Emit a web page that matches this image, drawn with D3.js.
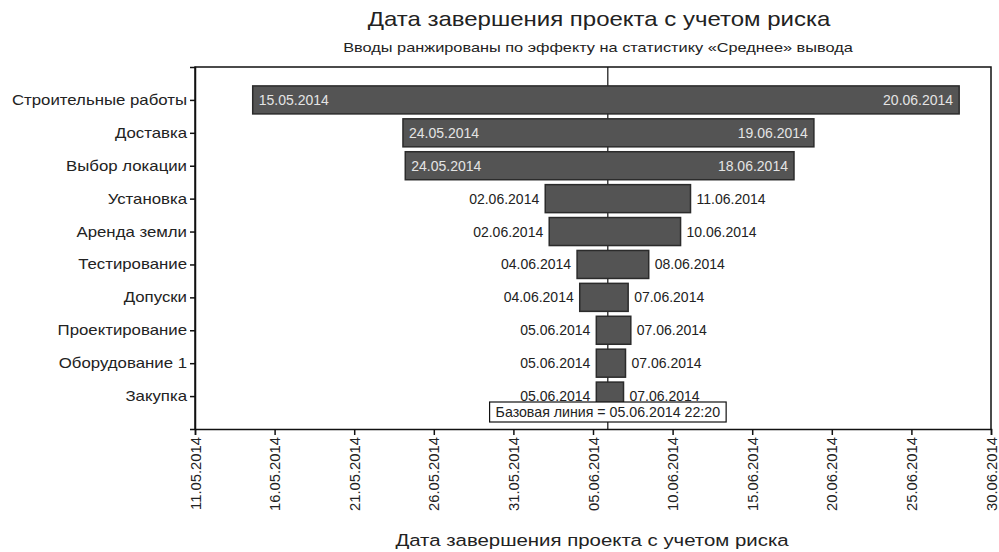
<!DOCTYPE html>
<html><head><meta charset="utf-8">
<script src="https://cdn.jsdelivr.net/npm/d3@7"></script>
<style>
body{margin:0;background:#fff;}
svg text{font-family:"Liberation Sans",Arial,sans-serif;}
</style></head>
<body><svg id="c" width="999" height="552"></svg>
<script>
const categories = ["Строительные работы","Доставка","Выбор локации","Установка","Аренда земли","Тестирование","Допуски","Проектирование","Оборудование 1","Закупка"];
// bar extents (date-time)
const lowValues  = ["2014-05-14T15:00","2014-05-24T01:30","2014-05-24T05:00","2014-06-02T00:00","2014-06-02T06:00","2014-06-04T00:00","2014-06-04T04:00","2014-06-05T05:00","2014-06-05T05:00","2014-06-05T05:00"];
const highValues = ["2014-06-28T00:00","2014-06-18T21:00","2014-06-17T15:00","2014-06-11T03:00","2014-06-10T12:00","2014-06-08T12:00","2014-06-07T05:00","2014-06-07T09:00","2014-06-07T01:00","2014-06-06T22:00"];
const lowLabels  = ["15.05.2014","24.05.2014","24.05.2014","02.06.2014","02.06.2014","04.06.2014","04.06.2014","05.06.2014","05.06.2014","05.06.2014"];
const highLabels = ["20.06.2014","19.06.2014","18.06.2014","11.06.2014","10.06.2014","08.06.2014","07.06.2014","07.06.2014","07.06.2014","07.06.2014"];
const labelsInside = [true,true,true,false,false,false,false,false,false,false];
const tickLabels = ["11.05.2014","16.05.2014","21.05.2014","26.05.2014","31.05.2014","05.06.2014","10.06.2014","15.06.2014","20.06.2014","25.06.2014","30.06.2014"];
const baselineValue = "2014-06-05T22:20";
const baselineText = "Базовая линия = 05.06.2014 22:20";
const titleText = "Дата завершения проекта с учетом риска";
const subtitleText = "Вводы ранжированы по эффекту на статистику «Среднее» вывода";
const xTitleText = "Дата завершения проекта с учетом риска";

const parse = d3.timeParse("%Y-%m-%dT%H:%M");
const parseTick = d3.timeParse("%d.%m.%Y");
const tickDates = tickLabels.map(parseTick);
const fmt = d3.timeFormat("%d.%m.%Y");

const svg = d3.select("#c");
const L=195, R=991, T=67, B=429;
const SX = 1.2; // horizontal stretch seen in the reference text

const x = d3.scaleTime().domain([tickDates[0], tickDates[tickDates.length-1]]).range([L, R]);
const y = d3.scalePoint().domain(categories).range([T, B]).padding(1);
const barH = 28;

function stretchedText(cx, cy, size, txt){
  svg.append("g").attr("transform",`translate(${cx},${cy}) scale(${SX},1)`)
    .append("text").attr("x",0).attr("y",0).attr("text-anchor","middle")
    .attr("font-size",size).attr("fill","#222").text(txt);
}
stretchedText(599, 26, 20, titleText);
stretchedText(598, 52, 13.6, subtitleText);

// frame
svg.append("path").attr("d",`M${L},${B}V${T}H${R}V${B}`).attr("fill","none").attr("stroke","#111").attr("stroke-width",1.5);

// baseline
const bx = x(parse(baselineValue));
svg.append("line").attr("x1",bx).attr("x2",bx).attr("y1",T).attr("y2",B).attr("stroke","#111").attr("stroke-width",1.2);

// bars
const data = categories.map((c,i)=>({c, lo:parse(lowValues[i]), hi:parse(highValues[i]), ll:lowLabels[i], hl:highLabels[i], inside:labelsInside[i]}));
const g = svg.append("g");
g.selectAll("rect").data(data).join("rect")
  .attr("x",d=>x(d.lo)).attr("width",d=>x(d.hi)-x(d.lo))
  .attr("y",d=>y(d.c)-barH/2).attr("height",barH)
  .attr("fill","#545454").attr("stroke","#2b2b2b").attr("stroke-width",1.5);

g.selectAll("text.lo").data(data).join("text").attr("class","lo")
  .attr("x",d=>d.inside? x(d.lo)+6 : x(d.lo)-6)
  .attr("y",d=>y(d.c)+5)
  .attr("text-anchor",d=>d.inside?"start":"end")
  .attr("font-size",14)
  .attr("fill",d=>d.inside?"#e4e4e4":"#222")
  .text(d=>d.ll);
g.selectAll("text.hi").data(data).join("text").attr("class","hi")
  .attr("x",d=>d.inside? x(d.hi)-6 : x(d.hi)+6)
  .attr("y",d=>y(d.c)+5)
  .attr("text-anchor",d=>d.inside?"end":"start")
  .attr("font-size",14)
  .attr("fill",d=>d.inside?"#e4e4e4":"#222")
  .text(d=>d.hl);

// y axis
const yAxis = svg.append("g").attr("transform",`translate(${L},0)`)
  .call(d3.axisLeft(y).tickSize(5).tickPadding(3));
yAxis.select(".domain").attr("stroke","#111").attr("stroke-width",1.5);
yAxis.selectAll(".tick line").attr("stroke","#111").attr("stroke-width",1.5);
yAxis.selectAll(".tick text").attr("font-size",14).attr("fill","#222")
  .attr("font-family","Liberation Sans, Arial, sans-serif")
  .attr("x",-8/SX).attr("transform",`scale(${SX},1)`);

// x axis
const xAxis = svg.append("g").attr("transform",`translate(0,${B})`)
  .call(d3.axisBottom(x).tickValues(tickDates).tickFormat(fmt).tickSize(6));
xAxis.select(".domain").attr("stroke","#111").attr("stroke-width",1.5);
xAxis.selectAll(".tick line").attr("stroke","#111").attr("stroke-width",1.5);
xAxis.selectAll(".tick text").attr("font-size",14.8).attr("fill","#222")
  .attr("font-family","Liberation Sans, Arial, sans-serif")
  .attr("transform","rotate(-90)").attr("text-anchor","end")
  .attr("x",-8).attr("y",0).attr("dy","0.35em");

// baseline label box
const bl = svg.append("g");
const bt = bl.append("text").attr("x",bx).attr("y",417).attr("text-anchor","middle")
  .attr("font-size",14.2).attr("fill","#222").text(baselineText);
const bb = bt.node().getBBox();
bl.insert("rect","text").attr("x",bb.x-6).attr("y",402).attr("width",bb.width+12).attr("height",20)
  .attr("fill","#fff").attr("stroke","#111").attr("stroke-width",1.2);

// x title
stretchedText(592, 546, 17, xTitleText);
</script></body></html>
